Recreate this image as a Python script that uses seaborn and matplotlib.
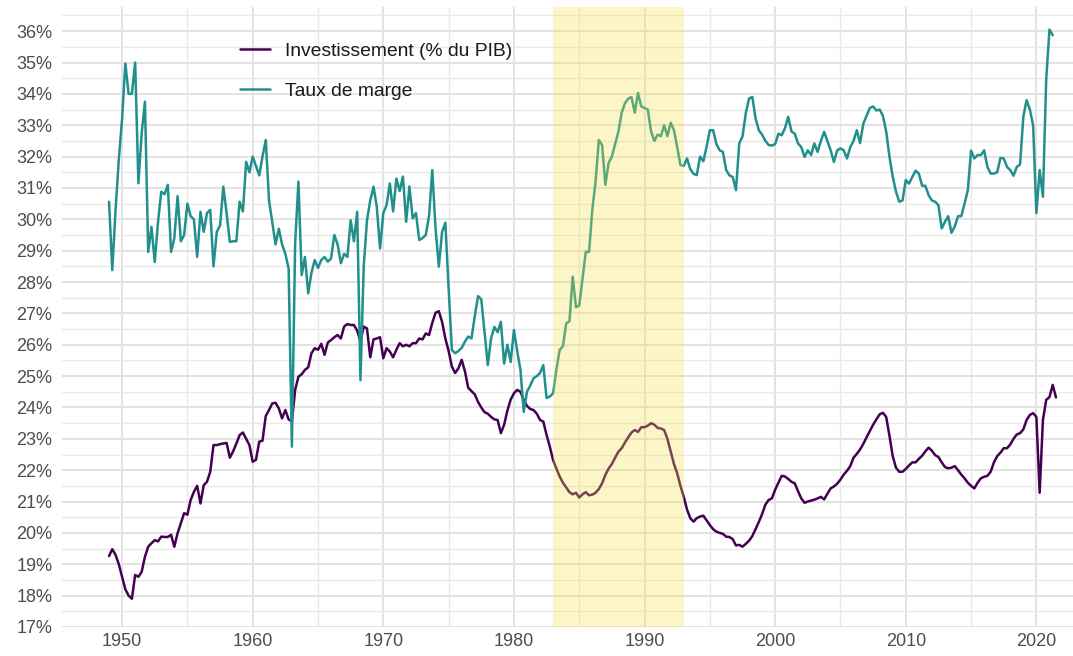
import numpy as np
import pandas as pd
import matplotlib
matplotlib.use("Agg")
import matplotlib.pyplot as plt
import seaborn as sns
from matplotlib.ticker import MultipleLocator, FuncFormatter, FixedLocator

# ---------------- data (quarterly, starting 1949 Q1) ----------------
start_year = 1949
series_names = ["Investissement (% du PIB)", "Taux de marge"]
series_colors = ["#440154", "#21908C"]
shade_period = [1983, 1993]
x_ticks = [1950, 1960, 1970, 1980, 1990, 2000, 2010, 2020]
y_ticks = list(range(17, 37))

investissement = [
    19.26, 19.48, 19.3, 19.0,
    18.6, 18.2, 18.0, 17.9,
    18.66, 18.6, 18.76, 19.24,
    19.56, 19.67, 19.77, 19.73,
    19.88, 19.87, 19.87, 19.94,
    19.56, 19.99, 20.31, 20.63,
    20.58, 21.05, 21.31, 21.5,
    20.94, 21.52, 21.63, 21.95,
    22.8, 22.8, 22.83, 22.85,
    22.87, 22.4, 22.6, 22.85,
    23.12, 23.2, 23.0, 22.8,
    22.27, 22.33, 22.91, 22.94,
    23.73, 23.92, 24.13, 24.15,
    23.97, 23.65, 23.92, 23.62,
    23.55, 24.56, 24.98, 25.06,
    25.2, 25.28, 25.73, 25.89,
    25.84, 26.03, 25.68, 26.07,
    26.15, 26.24, 26.31, 26.2,
    26.58, 26.66, 26.63, 26.63,
    26.45, 26.1, 26.58, 26.52,
    25.6, 26.17, 26.2, 26.24,
    25.57, 25.89, 25.78, 25.6,
    25.84, 26.05, 25.95, 26.0,
    25.95, 26.05, 26.05, 26.2,
    26.17, 26.36, 26.31, 26.7,
    27.02, 27.07, 26.73, 26.2,
    25.8, 25.3, 25.1, 25.25,
    25.52, 25.15, 24.63, 24.52,
    24.42, 24.18, 24.0, 23.85,
    23.8, 23.7, 23.62, 23.6,
    23.18, 23.45, 23.9, 24.25,
    24.45, 24.56, 24.5, 24.24,
    24.05, 23.95, 23.92, 23.8,
    23.6, 23.55, 23.12, 22.75,
    22.32, 22.05, 21.8, 21.6,
    21.45, 21.3, 21.23, 21.28,
    21.13, 21.23, 21.3, 21.2,
    21.22, 21.28, 21.4, 21.58,
    21.85, 22.05, 22.2, 22.4,
    22.59, 22.7, 22.88, 23.05,
    23.2, 23.28, 23.22, 23.37,
    23.37, 23.42, 23.5, 23.45,
    23.35, 23.33, 23.28, 23.0,
    22.6, 22.2, 21.9, 21.5,
    21.15, 20.75, 20.47, 20.36,
    20.47, 20.52, 20.55, 20.4,
    20.25, 20.12, 20.04, 20.0,
    19.97, 19.88, 19.87, 19.8,
    19.6, 19.62, 19.56, 19.65,
    19.75, 19.9, 20.12, 20.35,
    20.6, 20.9, 21.05, 21.1,
    21.38, 21.6, 21.82, 21.8,
    21.72, 21.63, 21.58, 21.33,
    21.1, 20.96, 21.0, 21.03,
    21.06, 21.1, 21.15, 21.07,
    21.25, 21.42, 21.48, 21.57,
    21.7, 21.86, 21.98, 22.13,
    22.4, 22.52, 22.66, 22.84,
    23.05, 23.25, 23.45, 23.62,
    23.78, 23.83, 23.7, 23.1,
    22.45, 22.08, 21.95, 21.95,
    22.04, 22.15, 22.25, 22.25,
    22.36, 22.46, 22.6, 22.72,
    22.62, 22.48, 22.42, 22.25,
    22.1, 22.06, 22.08, 22.13,
    22.0, 21.86, 21.74, 21.6,
    21.5, 21.42, 21.6, 21.74,
    21.79, 21.82, 21.95, 22.25,
    22.45, 22.56, 22.7, 22.7,
    22.82, 23.0, 23.14, 23.18,
    23.3, 23.6, 23.76, 23.82,
    23.7, 21.28, 23.6, 24.24,
    24.33, 24.72, 24.32,
]

taux_marge = [
    30.56, 28.38, 30.3, 31.9,
    33.2, 34.97, 34.0, 34.0,
    35.0, 31.15, 32.75, 33.75,
    28.96, 29.76, 28.64, 29.9,
    30.88, 30.8, 31.1, 28.96,
    29.4, 30.74, 29.3, 29.5,
    30.5, 30.1, 30.0, 28.8,
    30.24, 29.6, 30.2, 30.3,
    28.5, 29.6, 29.8, 31.04,
    30.2, 29.28, 29.3, 29.3,
    30.56, 30.25, 31.83, 31.5,
    32.0, 31.7, 31.4, 32.0,
    32.53, 30.6, 29.9, 29.2,
    29.7, 29.2, 28.9, 28.43,
    22.75, 29.23, 31.2, 28.22,
    28.8, 27.64, 28.3, 28.7,
    28.45, 28.7, 28.8, 28.65,
    28.75, 29.5, 29.2, 28.6,
    28.9, 28.8, 29.97, 29.3,
    30.24, 24.87, 28.5, 29.97,
    30.6, 31.04, 30.4, 29.07,
    30.2, 30.45, 31.14, 30.25,
    31.3, 30.9, 31.36, 29.92,
    31.05, 30.03, 30.2, 29.34,
    29.4, 29.5, 30.1, 31.57,
    29.7, 28.49, 29.6, 29.89,
    27.8, 25.83, 25.73, 25.8,
    25.9, 26.1, 26.26, 26.2,
    26.9, 27.55, 27.45, 26.4,
    25.35, 26.2, 26.57, 26.4,
    26.73, 25.4, 26.0, 25.45,
    26.47, 25.8, 25.2, 23.86,
    24.5, 24.7, 24.93, 25.0,
    25.1, 25.35, 24.3, 24.35,
    24.45, 25.2, 25.83, 25.95,
    26.68, 26.75, 28.17, 27.2,
    27.25, 28.1, 28.96, 28.96,
    30.3, 31.2, 32.53, 32.37,
    31.1, 31.8, 32.0, 32.4,
    32.8, 33.4, 33.7, 33.85,
    33.9, 33.4, 34.03, 33.6,
    33.55, 33.5, 32.8, 32.5,
    32.7, 32.65, 33.0, 32.65,
    33.08, 32.85, 32.3, 31.73,
    31.7, 31.94, 31.6, 31.45,
    31.41, 32.0, 31.85, 32.31,
    32.84, 32.84, 32.4, 32.2,
    32.15, 31.57, 31.4, 31.35,
    30.93, 32.42, 32.64, 33.38,
    33.85, 33.9, 33.22, 32.84,
    32.7, 32.5, 32.37, 32.35,
    32.4, 32.73, 32.68, 32.9,
    33.27, 32.8, 32.73, 32.42,
    32.3, 31.99, 32.2, 32.05,
    32.42, 32.15, 32.5, 32.79,
    32.5, 32.2, 31.83, 32.2,
    32.26, 32.2, 31.94, 32.3,
    32.5, 32.84, 32.43, 33.05,
    33.3, 33.55, 33.6, 33.47,
    33.5, 33.3, 32.8, 32.0,
    31.36, 30.88, 30.56, 30.6,
    31.25, 31.14, 31.35, 31.55,
    31.46, 31.07, 31.07, 30.77,
    30.6, 30.56, 30.45, 29.71,
    29.92, 30.1, 29.57, 29.77,
    30.1, 30.1, 30.5, 30.93,
    32.19, 31.94, 32.05, 32.05,
    32.2, 31.67, 31.46, 31.46,
    31.5, 31.96, 31.94, 31.67,
    31.57, 31.39, 31.67, 31.75,
    33.27, 33.8, 33.5, 33.0,
    30.2, 31.57, 30.72, 34.44,
    36.05, 35.87,
]

# ---------------- long-form table ----------------
frames = []
for name, vals in zip(series_names, [investissement, taux_marge]):
    dates = start_year + np.arange(len(vals)) / 4.0
    frames.append(pd.DataFrame({"date": dates, "valeur": vals, "serie": name}))
df = pd.concat(frames, ignore_index=True)

# ---------------- styling ----------------
sns.set_theme(style="whitegrid")
plt.rcParams["font.family"] = ["Liberation Sans", "DejaVu Sans"]

W, H = 1073, 656
fig = plt.figure(figsize=(W / 100, H / 100), dpi=100)
fig.patch.set_facecolor("white")
ax_top_px, ax_bot_px = 7.0, 627.3
ax = fig.add_axes([62 / W, (H - ax_bot_px) / H, 1041 / W, (ax_bot_px - ax_top_px) / H])
ax.set_facecolor("white")

sns.lineplot(data=df, x="date", y="valeur", hue="serie", hue_order=series_names,
             palette=series_colors, linewidth=1.8, ax=ax, zorder=3)

ax.axvspan(shade_period[0], shade_period[1], color="#F5E148", alpha=0.30, lw=0, zorder=5)

ax.set_xlim(1945.4, 2025.1)
ax.set_ylim(16.99, 36.77)

ax.xaxis.set_major_locator(FixedLocator(x_ticks))
ax.xaxis.set_minor_locator(MultipleLocator(5))
ax.yaxis.set_major_locator(FixedLocator(y_ticks))
ax.yaxis.set_minor_locator(MultipleLocator(0.5))
ax.yaxis.set_major_formatter(FuncFormatter(lambda v, p: f"{int(round(v))}%"))
ax.xaxis.set_major_formatter(FuncFormatter(lambda v, p: f"{int(round(v))}"))

ax.grid(which="major", color="#E2E2E2", linewidth=1.4, zorder=0)
ax.grid(which="minor", color="#E9E9E9", linewidth=1.0, zorder=0)
ax.set_axisbelow(True)
for s in ax.spines.values():
    s.set_visible(False)

ax.tick_params(axis="both", which="both", length=0, labelsize=13, labelcolor="#4D4D4D")
ax.tick_params(axis="y", pad=7)
ax.tick_params(axis="x", pad=4)
ax.set_xlabel("")
ax.set_ylabel("")

handles, labels = ax.get_legend_handles_labels()
leg = ax.legend(handles, labels, loc="upper left", bbox_to_anchor=(0.171, 0.943),
                frameon=False, fontsize=13.9, handlelength=1.55, handletextpad=0.8,
                labelspacing=1.15, borderpad=0, borderaxespad=0)
for t in leg.get_texts():
    t.set_color("#1A1A1A")
for l in leg.get_lines():
    l.set_linewidth(1.8)

fig.savefig("out.png", dpi=100, facecolor="white")
